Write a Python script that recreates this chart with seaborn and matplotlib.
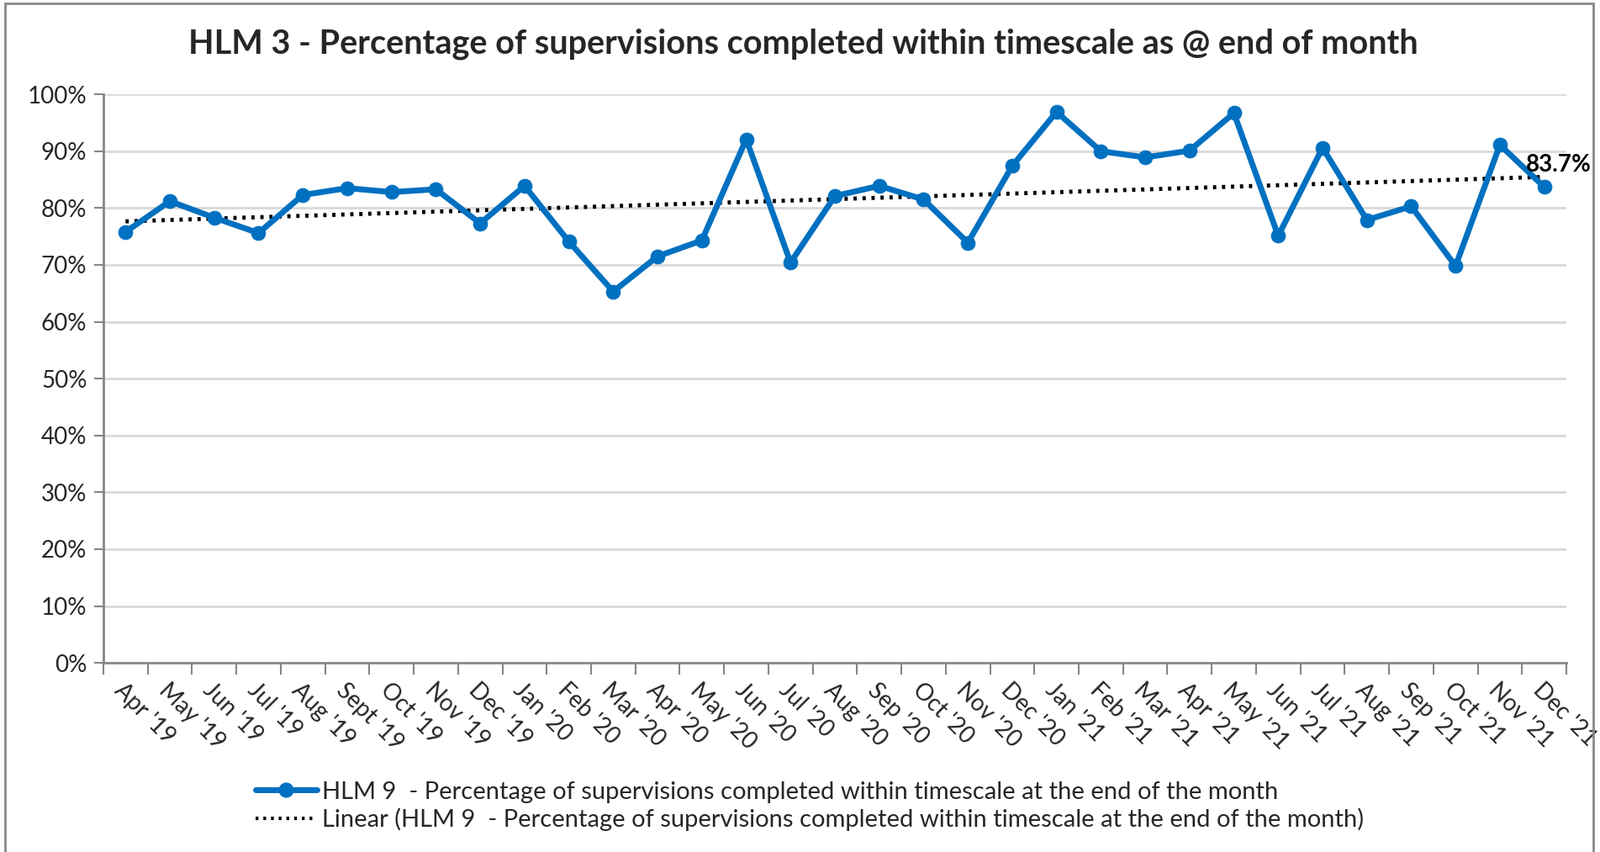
import numpy as np
import pandas as pd
import seaborn as sns
import matplotlib
matplotlib.use("Agg")
from matplotlib import pyplot as plt
from matplotlib.patches import Rectangle
from matplotlib.ticker import FixedLocator, FuncFormatter

months = ["Apr '19", "May '19", "Jun '19", "Jul '19", "Aug '19", "Sept '19",
          "Oct '19", "Nov '19", "Dec '19", "Jan '20", "Feb '20", "Mar '20",
          "Apr '20", "May '20", "Jun '20", "Jul '20", "Aug '20", "Sep '20",
          "Oct '20", "Nov '20", "Dec '20", "Jan '21", "Feb '21", "Mar '21",
          "Apr '21", "May '21", "Jun '21", "Jul '21", "Aug '21", "Sep '21",
          "Oct '21", "Nov '21", "Dec '21"]
pct_completed = [75.8, 81.2, 78.3, 75.6, 82.3, 83.5, 82.8, 83.3, 77.3, 83.9,
                 74.1, 65.3, 71.5, 74.3, 92.1, 70.4, 82.1, 83.9, 81.5, 73.9,
                 87.4, 96.9, 90.0, 88.9, 90.1, 96.7, 75.1, 90.6, 77.9, 80.3,
                 69.8, 91.1, 83.7]
yticks = list(range(0, 101, 10))

series_name = ("HLM 9  - Percentage of supervisions completed within "
               "timescale at the end of the month")
title = "HLM 3 - Percentage of supervisions completed within timescale as @ end of month"

BLUE = "#0070C0"
GRID = "#D9D9D9"
AXIS = "#868686"

sns.set_style("white")
plt.rcParams["font.family"] = ["Lato", "DejaVu Sans"]

df = pd.DataFrame({"pos": np.arange(len(months)), "value": pct_completed})

fig = plt.figure(figsize=(19.03, 10.13), dpi=100)
ax = fig.add_axes([0.0646, 0.222, 0.9144, 0.6673])

for y in yticks[1:]:
    ax.axhline(y, color=GRID, lw=2, zorder=0)

# linear trend line (like Excel's "Linear" trendline)
sns.regplot(data=df, x="pos", y="value", ax=ax, scatter=False, ci=None,
            line_kws=dict(color="black", lw=3.5, ls=(0, (0.8, 1.4)), zorder=2))
sns.lineplot(data=df, x="pos", y="value", ax=ax, color=BLUE, lw=5,
             marker="o", markersize=12, markeredgecolor=BLUE, zorder=3)

last = df.iloc[-1]
ax.annotate(f"{last['value']:.1f}%", (last["pos"], last["value"]),
            xytext=(12, 19), textcoords="offset points", ha="center",
            va="center", fontsize=20, fontweight="bold", color="black",
            annotation_clip=False)

n = len(months)
ax.set_xlim(-0.5, n - 0.5)
ax.set_ylim(0, 100)
ax.xaxis.set_major_locator(FixedLocator(np.arange(-0.5, n, 1.0)))
ax.xaxis.set_minor_locator(FixedLocator(np.arange(n)))
ax.set_xticklabels([], minor=False)
ax.set_xticklabels(months, minor=True, rotation=-45, ha="left", va="top",
                   rotation_mode="anchor", fontsize=20)
ax.tick_params(axis="x", which="major", length=10, width=1.5, color=AXIS,
               direction="out", bottom=True)
ax.tick_params(axis="x", which="minor", length=0, pad=14, bottom=True)
ax.set_yticks(yticks)
ax.yaxis.set_major_formatter(FuncFormatter(lambda v, p: f"{v:.0f}%"))
ax.tick_params(axis="y", length=8, width=1.5, color=AXIS, direction="out",
               left=True, labelsize=20, pad=6)
ax.set_xlabel("")
ax.set_ylabel("")
for side in ["top", "right"]:
    ax.spines[side].set_visible(False)
for side in ["left", "bottom"]:
    ax.spines[side].set_color(AXIS)
    ax.spines[side].set_linewidth(2)

fig.text(0.502, 0.948, title, ha="center", va="center", fontsize=28.5,
         fontweight="bold")

handles = [plt.Line2D([], [], color=BLUE, lw=5, marker="o", markersize=12),
           plt.Line2D([], [], color="black", lw=3, ls=(0, (0.8, 1.4)))]
labels = [series_name, f"Linear ({series_name})"]
fig.legend(handles, labels, loc="center", bbox_to_anchor=(0.506, 0.054),
           frameon=False, fontsize=21, handlelength=2.5, handletextpad=0.2,
           labelspacing=0.2, alignment="left")

fig.patches.append(Rectangle((0.003, -0.01), 0.993, 1.006,
                             transform=fig.transFigure, fill=False,
                             edgecolor="#898989", lw=2))

fig.savefig("out.png", dpi=100)
